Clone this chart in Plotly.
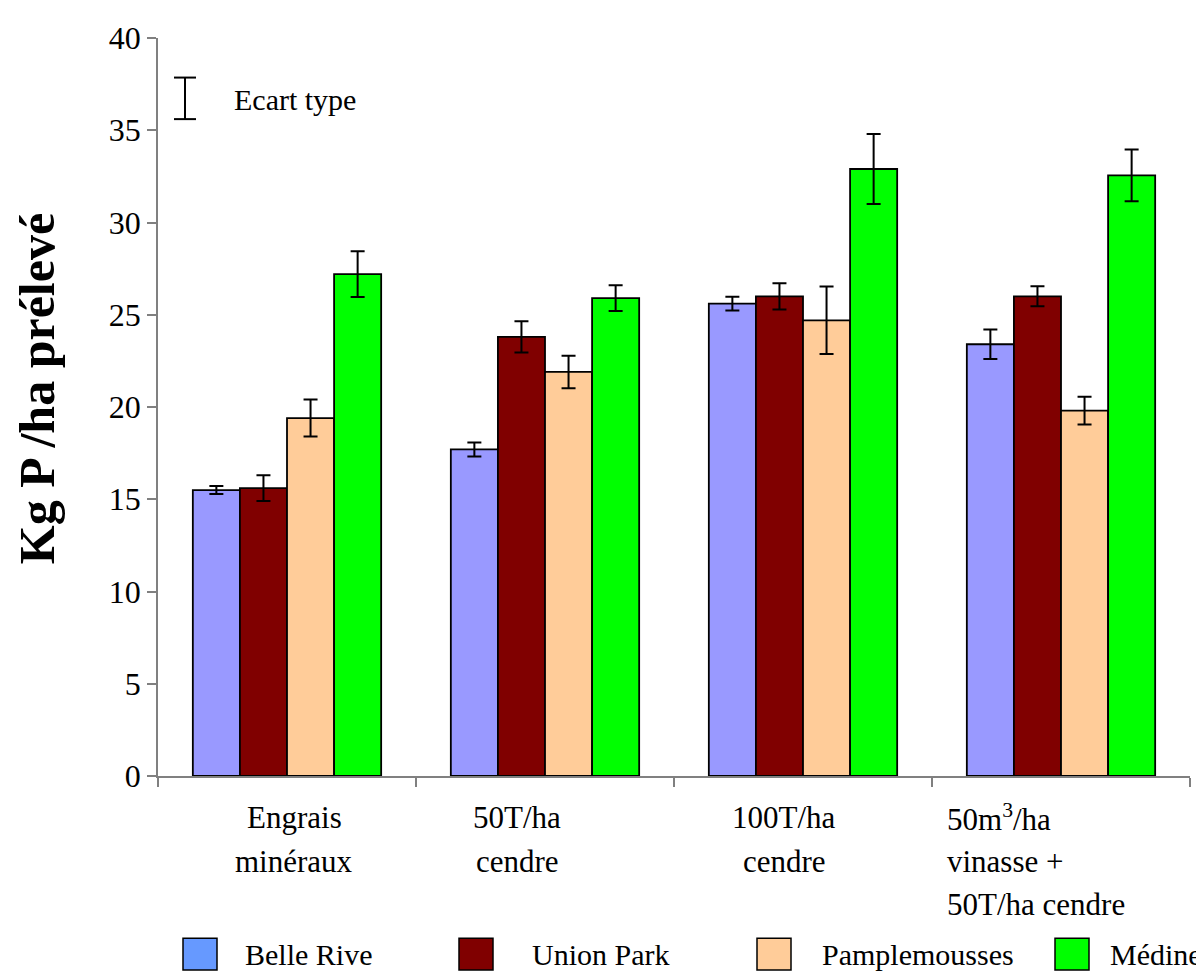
import plotly.graph_objects as go

# ---------------- data ----------------
categories = ["Engrais<br>minéraux", "50T/ha<br>cendre", "100T/ha<br>cendre",
              "50m<sup>3</sup>/ha<br>vinasse +<br>50T/ha cendre"]
series_names = ["Belle Rive", "Union Park", "Pamplemousses", "Médine"]
belle_rive = [15.5, 17.7, 25.6, 23.4]
union_park = [15.6, 23.8, 26.0, 26.0]
pamplemousses = [19.4, 21.9, 24.7, 19.8]
medine = [27.2, 25.9, 32.9, 32.55]
err_belle_rive = [0.22, 0.38, 0.37, 0.8]
err_union_park = [0.7, 0.85, 0.71, 0.54]
err_pamplemousses = [1.0, 0.88, 1.83, 0.75]
err_medine = [1.24, 0.7, 1.9, 1.4]
y_ticks = [0, 5, 10, 15, 20, 25, 30, 35, 40]
y_title = "Kg P /ha prélevé"
err_label = "Ecart type"

values = [belle_rive, union_park, pamplemousses, medine]
errors = [err_belle_rive, err_union_park, err_pamplemousses, err_medine]
bar_colors = ["#9999FF", "#800000", "#FFCC99", "#00FF00"]
legend_colors = ["#6699FF", "#800000", "#FFCC99", "#00FF00"]

FONT = "Liberation Serif"
OFF = 8  # page body margin
W, H = 1204 - OFF, 975 - OFF
# plot area in page pixels
L, R, T, B = 158, 1190, 30, 776


def px(x):
    return (x - L) / (R - L)


def py(y):
    return (B - y) / (B - T)


fig = go.Figure()
xcats = list(range(len(categories)))
for name, vals, errs, col in zip(series_names, values, errors, bar_colors):
    fig.add_trace(go.Bar(
        x=xcats, y=vals, name=name, showlegend=False,
        marker=dict(color=col, line=dict(color="black", width=1.8)),
        error_y=dict(type="data", array=errs, visible=True, color="black",
                     thickness=2, width=7),
    ))

shapes = []
annotations = []

# x category labels (one annotation per line)
label_offsets = [7, -28, -19, -116]
label_anchor = ["center", "center", "center", "left"]
line_y = [818, 862, 906]
for i, lab in enumerate(categories):
    for j, line in enumerate(lab.split("<br>")):
        annotations.append(dict(
            x=i, y=py(line_y[j]), xref="x", yref="paper", text=line,
            showarrow=False, xanchor=label_anchor[i], yanchor="middle",
            xshift=label_offsets[i], font=dict(family=FONT, size=31, color="black"),
        ))

# y-axis title
annotations.append(dict(x=px(37), y=py(385), xref="paper", yref="paper",
                        text="<b>" + y_title + "</b>", textangle=-90,
                        showarrow=False, xanchor="center", yanchor="middle",
                        font=dict(family=FONT, size=50, color="black")))

# manual legend
sq_x = [183, 459, 757, 1055]
tx_x = [243, 530, 820, 1108]
for name, col, sx, tx in zip(series_names, legend_colors, sq_x, tx_x):
    shapes.append(dict(type="rect", xref="paper", yref="paper",
                       x0=px(sx), x1=px(sx + 34), y0=py(940), y1=py(972),
                       fillcolor=col, line=dict(color="black", width=1.5)))
    annotations.append(dict(x=px(tx), y=py(956), xref="paper", yref="paper",
                            text=name, showarrow=False, xanchor="left",
                            yanchor="middle",
                            font=dict(family=FONT, size=30, color="black")))

# "Ecart type" key
ex = 185
for seg in [(ex, 70, ex, 112), (ex - 11, 70, ex + 11, 70), (ex - 11, 112, ex + 11, 112)]:
    shapes.append(dict(type="line", xref="paper", yref="paper",
                       x0=px(seg[0]), y0=py(seg[1]), x1=px(seg[2]), y1=py(seg[3]),
                       line=dict(color="black", width=2)))
annotations.append(dict(x=px(232), y=py(92), xref="paper", yref="paper",
                        text=err_label, showarrow=False, xanchor="left",
                        yanchor="middle", font=dict(family=FONT, size=30, color="black")))

fig.update_layout(
    width=W, height=H,
    margin=dict(l=L - OFF, r=W - (R - OFF), t=T - OFF, b=H - (B - OFF)),
    paper_bgcolor="white", plot_bgcolor="white",
    barmode="group", bargap=0.27, bargroupgap=0,
    font=dict(family=FONT, size=28, color="black"),
    shapes=shapes, annotations=annotations,
    xaxis=dict(type="category", tickmode="array", tickvals=xcats,
               showticklabels=False,
               tickson="boundaries", ticks="outside", ticklen=9,
               tickcolor="#808080", tickwidth=1.5,
               showline=True, linecolor="#808080", linewidth=1.5,
               showgrid=False, zeroline=False, range=[-0.5, 3.5]),
    yaxis=dict(range=[0, 40], tickmode="array", tickvals=y_ticks,
               ticks="outside", ticklen=9, tickcolor="#808080", tickwidth=1.5,
               showline=True, linecolor="#808080", linewidth=1.5,
               showgrid=False, zeroline=False,
               tickfont=dict(family=FONT, size=32, color="black")),
)

fig.write_html("out.html")
